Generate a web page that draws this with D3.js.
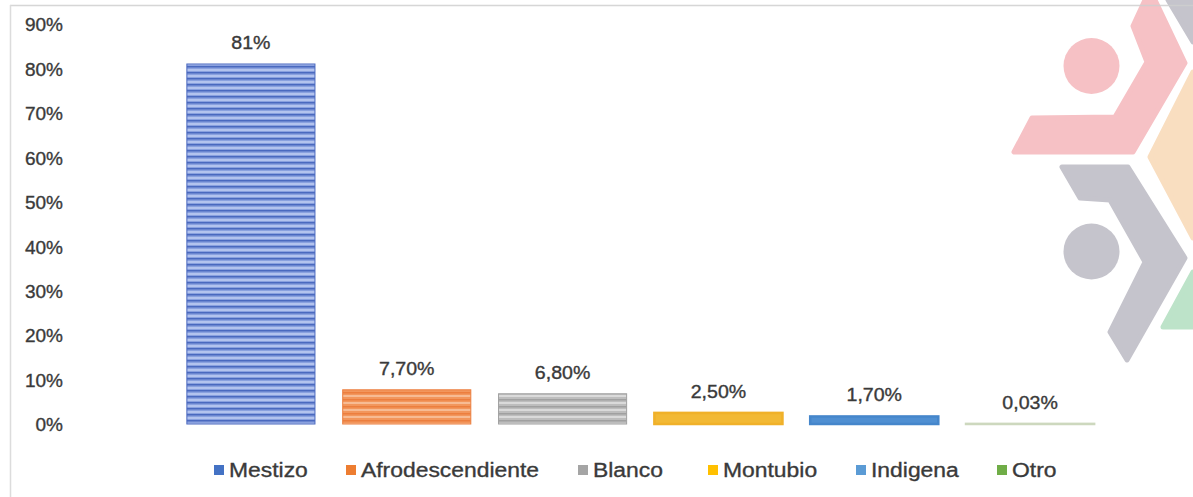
<!DOCTYPE html>
<html>
<head>
<meta charset="utf-8">
<script src="https://cdn.jsdelivr.net/npm/d3@7/dist/d3.min.js"></script>
<style>
html,body{margin:0;padding:0;background:#fff;}
svg{display:block;}
text{font-family:"Liberation Sans",Arial,Helvetica,sans-serif;fill:#3a3a3a;stroke:#3a3a3a;stroke-width:0.35px;}
</style>
</head>
<body>
<svg id="chart" width="1193" height="497"></svg>
<script>
const categories = ["Mestizo","Afrodescendiente","Blanco","Montubio","Indigena","Otro"];
const values = [81, 7.7, 6.8, 2.5, 1.7, 0.03];
const valueLabels = ["81%","7,70%","6,80%","2,50%","1,70%","0,03%"];
const yTicks = [0,10,20,30,40,50,60,70,80,90];
const barBase = ["#8aa1df","#f2965c","#bdbdbd","#f2b935","#4f8fd2","#d5dec8"];
const barDark = ["#4a69bf","#ec7e3e","#a0a0a0","#f0b12a","#4586cb","#cdd8be"];
const barLight = ["#b3c3ee","#f7bb93","#dadada","#f5c657","#5e98d6","#dbe3cf"];
const legendColors = ["#4472c4","#ed7d31","#a5a5a5","#ffc000","#5b9bd5","#70ad47"];

const svg = d3.select("#chart");
const defs = svg.append("defs");

// watermark logo (decoration)
const logo = svg.append("g").attr("class","logo");
const wm = [
  {c:"#f6c1c5", pts:[[1145,0],[1133,26],[1147,62],[1115,117],[1032,118],[1014,152],[1133,152],[1185,63],[1155,0]]},
  {c:"#c5c4cc", pts:[[1062,167],[1128,167],[1185,258],[1127,360],[1110,332],[1145,262],[1110,200],[1080,198]]},
  {c:"#c5c4cc", pts:[[1168,0],[1193,0],[1193,42]]},
  {c:"#f9dec0", pts:[[1193,72],[1150,157],[1193,238]]},
  {c:"#bde3c9", pts:[[1163,327],[1193,272],[1193,327]]}
];
wm.forEach(s=>{
  logo.append("path").attr("d","M"+s.pts.map(p=>p.join(",")).join("L")+"Z")
    .attr("fill",s.c).attr("stroke",s.c).attr("stroke-width",5).attr("stroke-linejoin","round");
});
logo.append("circle").attr("cx",1091.5).attr("cy",66).attr("r",28).attr("fill","#f6c1c5");
logo.append("circle").attr("cx",1091.5).attr("cy",251.5).attr("r",28).attr("fill","#c5c4cc");

// frame
svg.append("line").attr("x1",10).attr("x2",1193).attr("y1",5.5).attr("y2",5.5)
  .attr("stroke","#cfcfcf").attr("stroke-width",1.5).attr("opacity",0.85);
svg.append("line").attr("x1",10.5).attr("x2",10.5).attr("y1",5).attr("y2",497)
  .attr("stroke","#dcdcdc").attr("stroke-width",1.5);

// scales
const x = d3.scaleBand().domain(categories).range([173,1108]).paddingInner(0.178).paddingOuter(0.089);
const y = d3.scaleLinear().domain([0,90]).range([424,24]);

// patterns
categories.forEach((c,i)=>{
  const h = i===0 ? 6 : 7;
  const p = defs.append("pattern").attr("id","pat"+i).attr("patternUnits","userSpaceOnUse")
    .attr("width",10).attr("height",h);
  p.append("rect").attr("width",10).attr("height",h).attr("fill",barBase[i]);
  p.append("rect").attr("y",0).attr("width",10).attr("height",1.5).attr("fill",barDark[i]);
  p.append("rect").attr("y",3).attr("width",10).attr("height",2).attr("fill",barLight[i]);
});

// axis
const axis = d3.axisLeft(y).tickValues(yTicks).tickFormat(d=>d+"%").tickSize(0).tickPadding(3);
const ag = svg.append("g").attr("transform","translate(66,0)").call(axis);
ag.select(".domain").remove();
ag.selectAll("text").attr("font-size",19).attr("fill","#3a3a3a").attr("stroke","#3a3a3a").attr("stroke-width",0.35)
  .attr("font-family","'Liberation Sans',Arial,sans-serif").attr("dy","0.36em");

// bars
const data = categories.map((c,i)=>({c,v:values[i],l:valueLabels[i],i}));
svg.append("g").selectAll("rect").data(data).join("rect")
  .attr("x",d=>x(d.c)).attr("width",x.bandwidth())
  .attr("y",d=>y(d.v)).attr("height",d=>y(0)-y(d.v))
  .attr("fill",d=>(d.i<3?`url(#pat${d.i})`:barBase[d.i]))
  .attr("stroke",d=>barDark[d.i]).attr("stroke-width",d=>d.i>=3?2.5:1);

// value labels
svg.append("g").selectAll("text").data(data).join("text")
  .attr("transform",d=>`translate(${x(d.c)+x.bandwidth()/2},${y(d.v)-15}) scale(1.12,1)`)
  .attr("text-anchor","middle").attr("font-size",17.5).text(d=>d.l);

// legend
const lg = svg.append("g");
const legendX = [214,346,578,708,856,997];
data.forEach((d,i)=>{
  lg.append("rect").attr("x",legendX[i]).attr("y",465).attr("width",10).attr("height",10).attr("fill",legendColors[i]);
  lg.append("text").attr("transform",`translate(${legendX[i]+15},476.5) scale(1.09,1)`)
    .attr("font-size",21).text(d.c);
});
</script>
</body>
</html>
